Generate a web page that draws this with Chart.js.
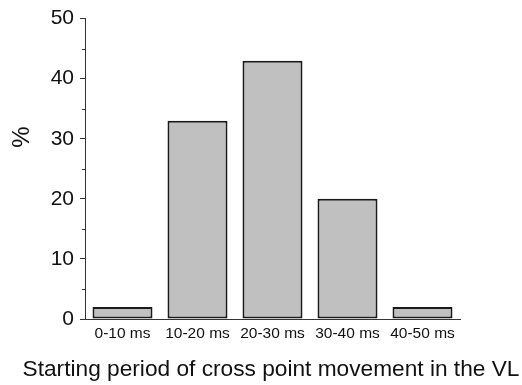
<!DOCTYPE html>
<html>
<head>
<meta charset="utf-8">
<script src="https://cdn.jsdelivr.net/npm/chart.js@4"></script>
<style>
  html, body { margin: 0; padding: 0; background: #fff; }
  #wrap { width: 522px; height: 385px; }
</style>
</head>
<body>
<div id="wrap"><canvas id="periodChart" width="522" height="385"></canvas></div>
<script>
  // data
  const periods = ['0-10 ms', '10-20 ms', '20-30 ms', '30-40 ms', '40-50 ms'];
  const percent = [2, 33, 43, 20, 2];
  const yTicks = [0, 10, 20, 30, 40, 50];
  const yMinor = [5, 15, 25, 35, 45];
  const xTitle = 'Starting period of cross point movement in the VL';
  const yTitle = '%';

  const FONT = 'Arial, "Liberation Sans", sans-serif';

  // minor ticks on y axis + axis titles (the x title is wider than the plot area)
  const extras = {
    id: 'extras',
    afterDraw(chart) {
      const ctx = chart.ctx;
      const y = chart.scales.y;
      ctx.save();
      ctx.strokeStyle = '#333';
      ctx.lineWidth = 1;
      yMinor.forEach(v => {
        const py = Math.round(y.getPixelForValue(v)) + 0.5;
        ctx.beginPath();
        ctx.moveTo(y.right - 3, py);
        ctx.lineTo(y.right, py);
        ctx.stroke();
      });
      ctx.fillStyle = '#111';
      ctx.textAlign = 'center';
      ctx.textBaseline = 'alphabetic';
      ctx.font = '22.7px ' + FONT;
      ctx.fillText(xTitle, 271, 376);
      ctx.translate(22, 137);
      ctx.rotate(-Math.PI / 2);
      ctx.font = '24px ' + FONT;
      ctx.textBaseline = 'middle';
      ctx.fillText(yTitle, 0, 0);
      ctx.restore();
    }
  };

  new Chart(document.getElementById('periodChart'), {
    type: 'bar',
    data: {
      labels: periods,
      datasets: [{
        data: percent,
        backgroundColor: '#c0c0c0',
        borderColor: '#1a1a1a',
        borderWidth: 2,
        borderSkipped: false,
        categoryPercentage: 0.8,
        barPercentage: 1.0
      }]
    },
    options: {
      responsive: false,
      animation: false,
      layout: { padding: { left: 0, right: 62, top: 8, bottom: 4 } },
      plugins: { legend: { display: false }, tooltip: { enabled: false } },
      scales: {
        x: {
          grid: { display: false, drawTicks: false },
          border: { display: true, color: '#333', width: 1 },
          ticks: { color: '#111', padding: 5, maxRotation: 0, font: { family: FONT, size: 15.5 } },
          afterFit(s) { s.height = 62; }
        },
        y: {
          min: 0,
          max: 50,
          afterBuildTicks(s) { s.ticks = yTicks.map(v => ({ value: v })); },
          grid: { drawOnChartArea: false, drawTicks: true, tickLength: 5, color: '#333' },
          border: { display: true, color: '#333', width: 1 },
          ticks: { color: '#111', padding: 6, font: { family: FONT, size: 21 } },
          afterFit(s) { s.width = 85; }
        }
      }
    },
    plugins: [extras]
  });
</script>
</body>
</html>
